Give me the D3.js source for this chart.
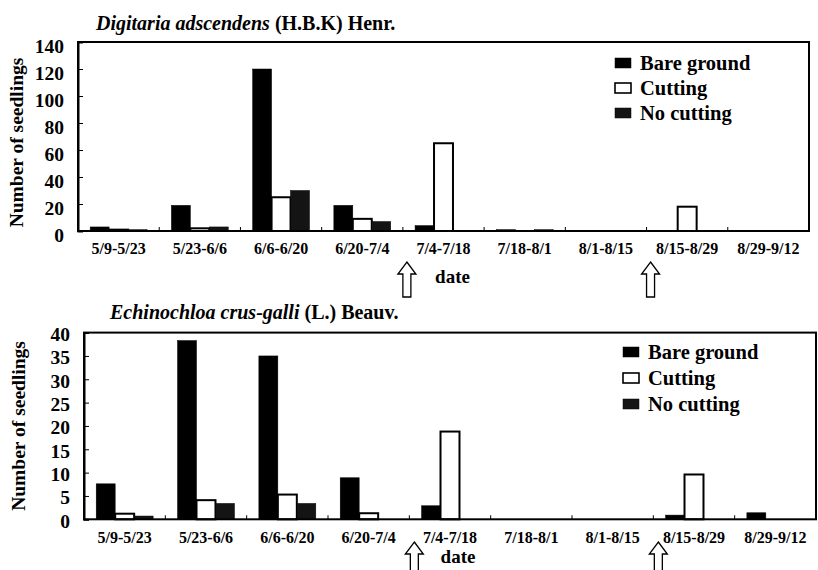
<!DOCTYPE html>
<html>
<head>
  <meta charset="utf-8" />
  <title>Seedling emergence</title>
  <style>
    body { margin: 0; background: #fff; }
    svg text { font-family: "Liberation Serif", "Times New Roman", serif; font-weight: bold; fill: #000; }
  </style>
</head>
<body>
<svg id="chart" width="818" height="570"></svg>

<script src="https://d3js.org/d3.v7.min.js"></script>
<script>
  // date periods (x categories)
  const categories = ["5/9-5/23", "5/23-6/6", "6/6-6/20", "6/20-7/4", "7/4-7/18",
                      "7/18-8/1", "8/1-8/15", "8/15-8/29", "8/29-9/12"];
  const seriesNames = ["Bare ground", "Cutting", "No cutting"];

  // Digitaria adscendens
  const digitariaBare      = [3, 19, 120, 19, 4, 1, 0, 0, 0];
  const digitariaCutting   = [1, 2, 25, 9, 65, 0, 0, 18, 0];
  const digitariaNoCutting = [1, 3, 30, 7, 0, 1, 0, 0, 0];
  const digitariaTicks = [0, 20, 40, 60, 80, 100, 120, 140];

  // Echinochloa crus-galli
  const echinoBare      = [7.6, 38.3, 35, 8.9, 2.9, 0, 0, 0.9, 1.4];
  const echinoCutting   = [1.2, 4.1, 5.3, 1.3, 18.8, 0, 0, 9.6, 0];
  const echinoNoCutting = [0.7, 3.4, 3.4, 0, 0, 0, 0, 0, 0];
  const echinoTicks = [0, 5, 10, 15, 20, 25, 30, 35, 40];

  // cutting dates marked with arrows (boundary after these periods)
  const cuttingAfter = ["6/20-7/4", "8/1-8/15"];

  const fills = { "Bare ground": "#000", "Cutting": "#fff", "No cutting": "#141414" };

  const svg = d3.select("#chart");

  function drawPanel(opt) {
    const g = svg.append("g");

    const x0 = d3.scaleBand().domain(categories)
      .range([opt.left, opt.right]).paddingInner(0.3).paddingOuter(0.15);
    const x1 = d3.scaleBand().domain(seriesNames).range([0, x0.bandwidth()]);
    const y = d3.scaleLinear().domain([0, opt.max]).range([opt.bottom, opt.top]);

    const rows = categories.map((c, i) => ({
      cat: c,
      vals: seriesNames.map((s, k) => ({ name: s, value: opt.series[k][i] }))
    }));

    // bars
    g.selectAll("g.grp").data(rows).enter().append("g")
      .attr("transform", d => `translate(${x0(d.cat)},0)`)
      .selectAll("rect").data(d => d.vals.filter(v => v.value > 0)).enter().append("rect")
      .attr("x", d => x1(d.name))
      .attr("width", x1.bandwidth())
      .attr("y", d => y(d.value))
      .attr("height", d => y(0) - y(d.value))
      .attr("fill", d => fills[d.name])
      .attr("stroke", "#000")
      .attr("stroke-width", d => d.name === "Cutting" ? 2 : 0.5);

    // frame
    g.append("rect")
      .attr("x", opt.left).attr("y", opt.top)
      .attr("width", opt.right - opt.left).attr("height", opt.bottom - opt.top)
      .attr("fill", "none").attr("stroke", "#000").attr("stroke-width", 2);

    // y axis (inner ticks)
    const yAxis = d3.axisLeft(y).tickValues(opt.ticks).tickSize(-5).tickPadding(14);
    const ya = g.append("g").attr("transform", `translate(${opt.left},0)`).call(yAxis);
    ya.select(".domain").attr("stroke-width", 2);
    ya.selectAll("text").style("font-size", "19.5px").attr("dy", opt.tickDy);

    // x axis: labels under categories, small ticks at boundaries
    const xAxis = d3.axisBottom(x0).tickSize(0).tickPadding(12);
    const xa = g.append("g").attr("transform", `translate(0,${opt.bottom})`).call(xAxis);
    xa.select(".domain").remove();
    xa.selectAll("text").style("font-size", "16px");
    g.selectAll("line.bound").data(categories.slice(1)).enter().append("line")
      .attr("x1", d => x0(d) - x0.step() * 0.15).attr("x2", d => x0(d) - x0.step() * 0.15)
      .attr("y1", opt.bottom).attr("y2", opt.bottom - 4)
      .attr("stroke", "#000").attr("stroke-width", 1);

    // y title
    g.append("text")
      .attr("transform", `translate(${opt.ytitleX},${(opt.top + opt.bottom) / 2 + opt.ytitleDy}) rotate(-90)`)
      .attr("text-anchor", "middle").style("font-size", "19.5px")
      .text("Number of seedlings");

    // panel title: italic species + authority
    const t = g.append("text").attr("x", opt.titleX).attr("y", opt.titleY).style("font-size", "20px");
    t.append("tspan").style("font-style", "italic").text(opt.species);
    t.append("tspan").text(" " + opt.authority);

    // x title
    g.append("text").attr("x", x0("7/4-7/18") + x0.bandwidth() / 2 + opt.dateShift).attr("y", opt.dateY)
      .attr("text-anchor", "middle").style("font-size", "19px").text("date");

    // legend
    const lg = g.append("g").attr("transform", `translate(${opt.legendX},${opt.legendY})`);
    seriesNames.forEach((s, k) => {
      const row = lg.append("g").attr("transform", `translate(0,${k * opt.legendGap})`);
      row.append("rect").attr("x", 0).attr("y", -5).attr("width", 16).attr("height", 10)
        .attr("fill", fills[s]).attr("stroke", "#000").attr("stroke-width", s === "Cutting" ? 1.6 : 0.5);
      row.append("text").attr("x", 25).attr("dy", "0.35em").style("font-size", "20.5px").text(s);
    });

    // cutting arrows
    cuttingAfter.forEach(c => {
      const i = categories.indexOf(c);
      const cx = x0(categories[i + 1]) - x0.step() * 0.15 + opt.arrowShift;
      const ty = opt.arrowTop, len = 35, hw = 9, sw = 4, hh = 12;
      const p = d3.path();
      p.moveTo(cx, ty);
      p.lineTo(cx + hw, ty + hh);
      p.lineTo(cx + sw, ty + hh);
      p.lineTo(cx + sw, ty + len);
      p.lineTo(cx - sw, ty + len);
      p.lineTo(cx - sw, ty + hh);
      p.lineTo(cx - hw, ty + hh);
      p.closePath();
      g.append("path").attr("d", p.toString())
        .attr("fill", "#fff").attr("stroke", "#000").attr("stroke-width", 1.3);
    });
  }

  drawPanel({
    left: 78, right: 809, top: 42, bottom: 231, max: 140,
    series: [digitariaBare, digitariaCutting, digitariaNoCutting],
    ticks: digitariaTicks, tickDy: "0.55em",
    ytitleX: 23, ytitleDy: 6,
    titleX: 96, titleY: 30,
    species: "Digitaria adscendens", authority: "(H.B.K) Henr.",
    dateY: 283, dateShift: 9,
    legendX: 615, legendY: 63, legendGap: 25,
    arrowTop: 262, arrowShift: 4
  });

  drawPanel({
    left: 84, right: 816, top: 332.6, bottom: 519.3, max: 40,
    series: [echinoBare, echinoCutting, echinoNoCutting],
    ticks: echinoTicks, tickDy: "0.4em",
    ytitleX: 25, ytitleDy: 0,
    titleX: 110, titleY: 319,
    species: "Echinochloa crus-galli", authority: "(L.) Beauv.",
    dateY: 563, dateShift: 8,
    legendX: 623, legendY: 352, legendGap: 26,
    arrowTop: 542, arrowShift: 5
  });
</script>
</body>
</html>
